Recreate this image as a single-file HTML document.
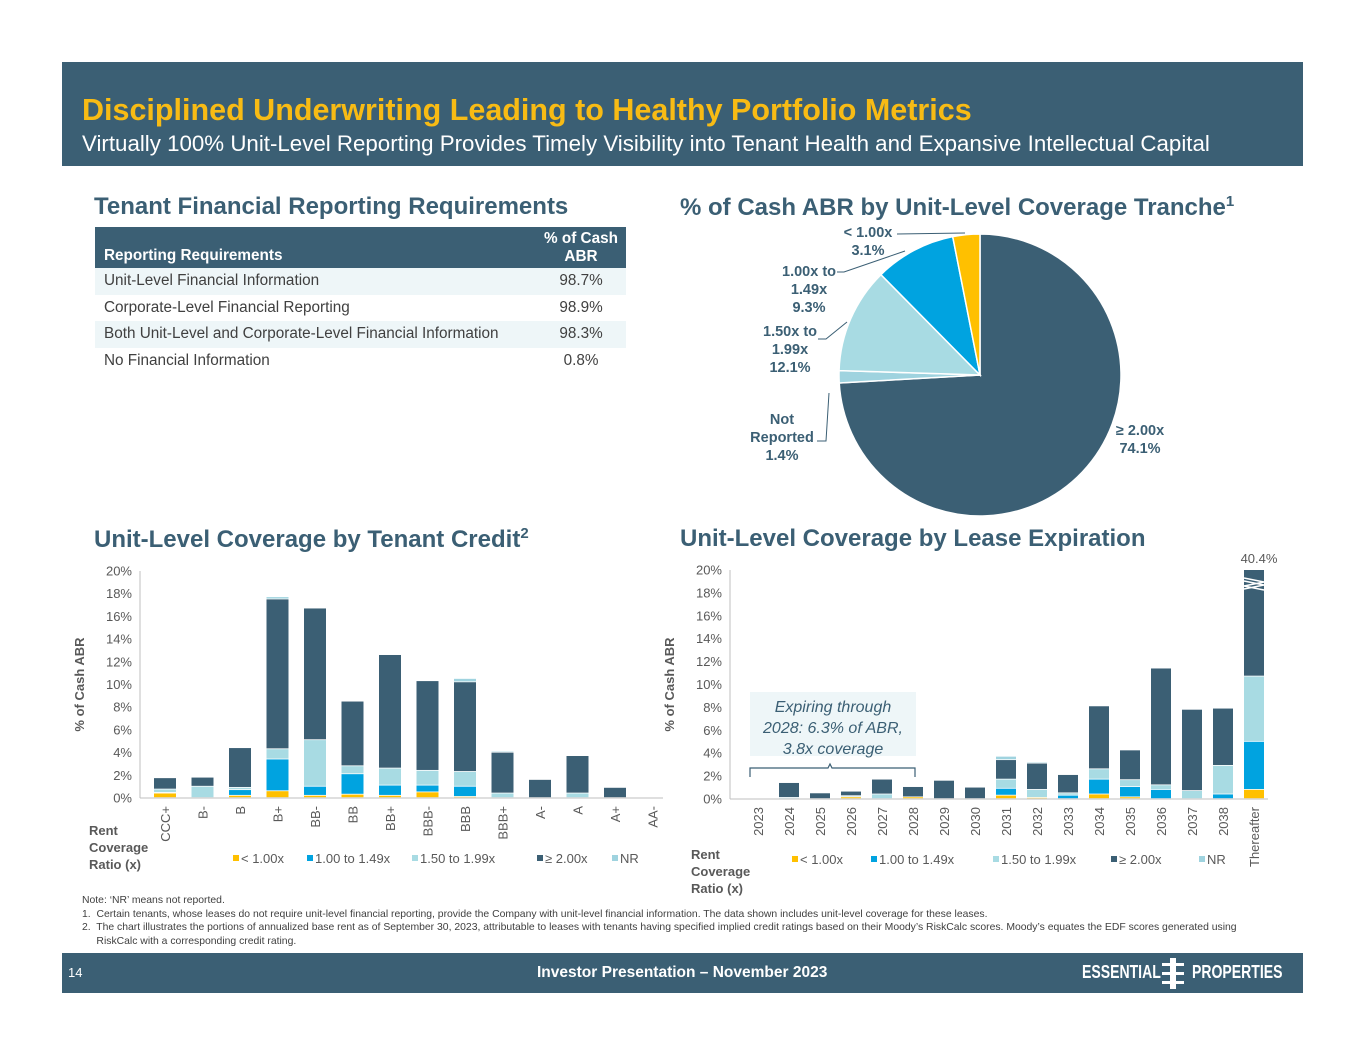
<!DOCTYPE html>
<html><head><meta charset="utf-8"><style>
body{margin:0;background:#fff;font-family:"Liberation Sans",Arial,sans-serif;}
#page{position:relative;width:1365px;height:1055px;overflow:hidden;background:#fff;}
.abs{position:absolute;}
.band{background:#3b5f74;}
h2{position:absolute;margin:0;font-size:24px;font-weight:bold;color:#3b5f74;white-space:nowrap;}
table{border-collapse:collapse;font-size:15.3px;color:#404040;}
td{height:26.5px;padding:0 0 0 9px;}
.note{font-size:10.4px;color:#404040;line-height:13.5px;white-space:nowrap;}
</style></head><body>
<div id="page">
<div class="abs band" style="left:62px;top:62px;width:1241px;height:104px"></div>
<div class="abs" style="left:82px;top:93px;font-size:30.5px;font-weight:bold;color:#f8bb14;white-space:nowrap">Disciplined Underwriting Leading to Healthy Portfolio Metrics</div>
<div class="abs" style="left:82px;top:131px;font-size:22.3px;color:#fff;white-space:nowrap">Virtually 100% Unit-Level Reporting Provides Timely Visibility into Tenant Health and Expansive Intellectual Capital</div>

<h2 style="left:94px;top:193px">Tenant Financial Reporting Requirements</h2>
<h2 style="left:680px;top:193px">% of Cash ABR by Unit-Level Coverage Tranche<sup style="font-size:15px">1</sup></h2>
<h2 style="left:94px;top:525px">Unit-Level Coverage by Tenant Credit<sup style="font-size:15px">2</sup></h2>
<h2 style="left:680px;top:525px">Unit-Level Coverage by Lease Expiration</h2>

<table class="abs" style="left:95px;top:227px;width:531px">
<tr style="background:#3b5f74;color:#fff;font-weight:bold;height:41px"><td style="vertical-align:bottom;padding-bottom:3px">Reporting Requirements</td><td style="text-align:center;width:90px;line-height:18px">% of Cash<br>ABR</td></tr>
<tr style="background:#eef6f8"><td>Unit-Level Financial Information</td><td style="text-align:center">98.7%</td></tr>
<tr><td>Corporate-Level Financial Reporting</td><td style="text-align:center">98.9%</td></tr>
<tr style="background:#eef6f8"><td>Both Unit-Level and Corporate-Level Financial Information</td><td style="text-align:center">98.3%</td></tr>
<tr><td>No Financial Information</td><td style="text-align:center">0.8%</td></tr>
</table>

<svg id="svg" class="abs" style="left:0;top:0" width="1365" height="1055"></svg>

<div class="abs note" style="left:82px;top:894px">Note: ‘NR’ means not reported.<br>1.&nbsp; Certain tenants, whose leases do not require unit-level financial reporting, provide the Company with unit-level financial information. The data shown includes unit-level coverage for these leases.<br>2.&nbsp; The chart illustrates the portions of annualized base rent as of September 30, 2023, attributable to leases with tenants having specified implied credit ratings based on their Moody’s RiskCalc scores. Moody’s equates the EDF scores generated using<br>&nbsp;&nbsp;&nbsp;&nbsp;&nbsp;RiskCalc with a corresponding credit rating.</div>

<div class="abs band" style="left:62px;top:953px;width:1241px;height:40px"></div>
<div class="abs" style="left:68px;top:965px;font-size:13px;color:#fff">14</div>
<div class="abs" style="left:537px;top:964px;font-size:15.5px;font-weight:bold;color:#fff;white-space:nowrap">Investor Presentation – November 2023</div>
<div class="abs" style="left:1082px;top:962px;font-size:18px;font-weight:bold;color:#fff;transform:scaleX(0.78);transform-origin:left;white-space:nowrap">ESSENTIAL</div>
<div class="abs" style="left:1192px;top:962px;font-size:18px;font-weight:bold;color:#fff;transform:scaleX(0.78);transform-origin:left;white-space:nowrap">PROPERTIES</div>
<div class="abs" style="left:1170px;top:958px;width:6px;height:31px;background:#fff"></div>
<div class="abs" style="left:1162px;top:963px;width:22px;height:3px;background:#fff"></div>
<div class="abs" style="left:1162px;top:972px;width:22px;height:3px;background:#fff"></div>
<div class="abs" style="left:1162px;top:981px;width:22px;height:3px;background:#fff"></div>
</div>
<script>
// ---- data ----
const creditCats=["CCC+","B-","B","B+","BB-","BB","BB+","BBB-","BBB","BBB+","A-","A","A+","AA-"];
const creditLt100=[0.4,0,0.2,0.6,0.2,0.3,0.2,0.5,0.1,0,0,0,0,0];
const credit100=[0.05,0,0.5,2.8,0.8,1.8,0.9,0.6,0.9,0,0,0,0,0];
const credit150=[0.3,1.0,0.2,0.9,4.1,0.7,1.5,1.3,1.3,0.4,0,0.4,0,0];
const credit200=[1.0,0.8,3.5,13.2,11.6,5.7,10.0,7.9,7.9,3.6,1.6,3.3,0.9,0];
const creditNR=[0,0,0,0.2,0,0,0,0,0.3,0.1,0,0,0,0];
const expCats=["2023","2024","2025","2026","2027","2028","2029","2030","2031","2032","2033","2034","2035","2036","2037","2038","Thereafter"];
const expLt100=[0,0,0,0.15,0,0.15,0,0,0.3,0.1,0,0.4,0.15,0,0,0,0.8];
const exp100=[0,0,0,0,0,0,0,0,0.6,0,0.3,1.3,0.9,0.8,0,0.4,4.2];
const exp150=[0,0.1,0,0.1,0.4,0,0,0,0.8,0.7,0.2,0.9,0.6,0.4,0.7,2.5,5.7];
const exp200=[0,1.3,0.5,0.4,1.3,0.9,1.6,1.0,1.7,2.3,1.6,5.5,2.6,10.2,7.1,5.0,29.7];
const expNR=[0,0,0,0,0,0,0,0,0.3,0.1,0,0,0,0,0,0,0];
const yTicks=[0,2,4,6,8,10,12,14,16,18,20];
const pieLabels=["≥ 2.00x","Not Reported","1.50x to 1.99x","1.00x to 1.49x","< 1.00x"];
const pieValues=[74.1,1.4,12.1,9.3,3.1];
const seriesNames=["< 1.00x","1.00 to 1.49x","1.50 to 1.99x","≥ 2.00x","NR"];
const COLORS=["#ffc000","#00a3e0","#a8dbe3","#3b5f74","#9fd3df"];
const NS="http://www.w3.org/2000/svg";
const svg=document.getElementById('svg');
function el(tag,attrs,parent,text){const e=document.createElementNS(NS,tag);for(const k in attrs)e.setAttribute(k,attrs[k]);if(text!==undefined)e.textContent=text;(parent||svg).appendChild(e);return e;}

function barChart(cfg){
  const g=el('g',{});
  
  
  const y=v=>cfg.y0-Math.min(v,20)/20*(cfg.y0-cfg.y20);
  const x=i=>cfg.x0+i*cfg.step;
  yTicks.forEach(t=>{const tx=el('text',{x:cfg.axisX-8,y:y(t)+4.5,'text-anchor':'end','font-size':13,fill:'#595959'},g,t+'%');
    
    });
  el('line',{x1:cfg.axisX,y1:cfg.y20,x2:cfg.axisX,y2:cfg.y0,stroke:'#bfbfbf'},g);
  el('line',{x1:cfg.axisX,y1:cfg.y0,x2:cfg.axisEnd,y2:cfg.y0,stroke:'#bfbfbf'},g);
  const t=el('text',{transform:`translate(${cfg.axisX-56},${(cfg.y0+cfg.y20)/2}) rotate(-90)`,'text-anchor':'middle','font-size':13,'font-weight':'bold',fill:'#595959'},g,'% of Cash ABR');
  
  
  cfg.cats.forEach((c,i)=>{
    let base=0;
    cfg.series.forEach((s,si)=>{
      const v=s[i]; if(!v)return;
      const top=base+v;
      const r=el('rect',{x:x(i)-cfg.bw/2,y:y(top),width:cfg.bw,height:Math.max(0,y(base)-y(top)-0.8),fill:COLORS[si]},g);
      
      
      base=top;
    });
    const lt=el('text',{transform:`translate(${x(i)+5},${cfg.y0+8}) rotate(-90)`,'text-anchor':'end','font-size':13,fill:'#595959'},g,c);
    
    
  });
  ['Rent','Coverage','Ratio (x)'].forEach((w,k)=>el('text',{x:cfg.rentX,y:cfg.rentY+k*17,'font-size':13,'font-weight':'bold',fill:'#595959'},g,w));
  cfg.legendX.forEach((lx,k)=>{
    const lg=el('g',{},g);
    
    
    el('rect',{x:lx,y:cfg.legendY-8,width:6,height:6,fill:COLORS[k]},lg);
    el('text',{x:lx+8,y:cfg.legendY,'font-size':13,fill:'#595959'},lg,seriesNames[k]);
  });
  return {g,x,y};
}
barChart({name:'credit-chart',cats:creditCats,series:[creditLt100,credit100,credit150,credit200,creditNR],x0:165,step:37.5,bw:22,y0:798,y20:571,axisX:140,axisEnd:663,rentX:89,rentY:835,legendY:863,legendX:[233,307,412,537,612]});
const ex=barChart({name:'expiration-chart',cats:expCats,series:[expLt100,exp100,exp150,exp200,expNR],x0:758,step:31,bw:20,y0:799,y20:570,axisX:730,axisEnd:1268,rentX:691,rentY:859,legendY:864,legendX:[792,871,993,1111,1199]});
const ti=expCats.length-1;
const total=expLt100[ti]+exp100[ti]+exp150[ti]+exp200[ti]+expNR[ti];
el('path',{d:`M${ex.x(ti)-10} 578 L${ex.x(ti)+10} 582 L${ex.x(ti)-10} 586 L${ex.x(ti)+10} 590 M${ex.x(ti)-10} 581 L${ex.x(ti)+10} 585 L${ex.x(ti)-10} 589`,stroke:'#fff','stroke-width':1.5,fill:'none'});
el('text',{x:ex.x(ti)+5,y:563,'text-anchor':'middle','font-size':13,fill:'#595959'},svg,total.toFixed(1)+'%');
const cb=el('rect',{x:750,y:692,width:166,height:64,fill:'#eef6f8'});


['Expiring through','2028: 6.3% of ABR,','3.8x coverage'].forEach((w,k)=>el('text',{x:833,y:712+k*21,'text-anchor':'middle','font-size':16,'font-style':'italic',fill:'#3b5f74'},svg,w));
el('path',{d:'M750 777 L750 768 L828 768 L830 764 L832 768 L915 768 L915 777',stroke:'#3b5f74',fill:'none','stroke-width':1.2});

const cx=980,cy=375,R=141;
const pieColors=["#3b5f74","#9fd3df","#a8dbe3","#00a3e0","#ffc000"];
const sum=pieValues.reduce((a,b)=>a+b,0);
let ang=0;
pieValues.forEach((v,i)=>{
  const a0=ang/sum*2*Math.PI, a1=(ang+v)/sum*2*Math.PI; ang+=v;
  const p=a=>[cx+R*Math.sin(a),cy-R*Math.cos(a)];
  const [x0,y0]=p(a0),[x1,y1]=p(a1);
  const s=el('path',{d:`M${cx} ${cy} L${x0} ${y0} A${R} ${R} 0 ${a1-a0>Math.PI?1:0} 1 ${x1} ${y1} Z`,fill:pieColors[i],stroke:'#fff','stroke-width':1.5});
  
  
});
const pl=[[ [1140,435],[ "≥ 2.00x", pieValues[0]+"%"] ],[ [782,424],["Not","Reported",pieValues[1]+"%"] ],[ [790,336],["1.50x to","1.99x",pieValues[2]+"%"] ],[ [809,276],["1.00x to","1.49x",pieValues[3]+"%"] ],[ [868,237],["< 1.00x",pieValues[4]+"%"] ]];
pl.forEach(([[lx,ly],lines])=>lines.forEach((w,k)=>el('text',{x:lx,y:ly+k*18,'text-anchor':'middle','font-size':14.5,'font-weight':'bold',fill:'#3b5f74'},svg,w)));
el('path',{d:'M817 441 L826 441 L829 393',stroke:'#3b5f74',fill:'none'});
el('path',{d:'M818 339 L826 339 L847 322',stroke:'#3b5f74',fill:'none'});
el('path',{d:'M837 272 L844 272 L905 251',stroke:'#3b5f74',fill:'none'});
el('path',{d:'M897 234 L965 233',stroke:'#3b5f74',fill:'none'});
</script>
</body></html>
